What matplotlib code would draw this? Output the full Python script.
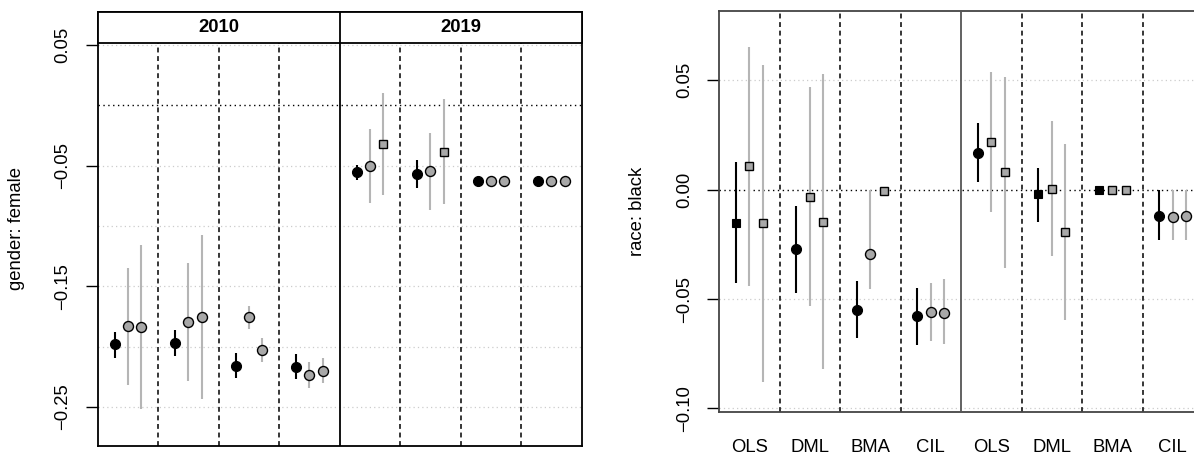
import matplotlib
matplotlib.use("Agg")
import matplotlib.pyplot as plt
from matplotlib.patches import Rectangle

plt.rcParams['font.family'] = ['Liberation Sans', 'DejaVu Sans']

# ---------------- data ----------------
methods = ["OLS", "DML", "BMA", "CIL", "OLS", "DML", "BMA", "CIL"]
years = ["2010", "2019"]

# gender: female (left panel)
g_est1 = [-0.198, -0.1967, -0.2157, -0.2166, -0.0555, -0.0566, -0.0627, -0.0627]
g_lo1 = [-0.209, -0.2075, -0.226, -0.227, -0.0619, -0.0682, -0.0668, -0.0668]
g_hi1 = [-0.188, -0.186, -0.205, -0.206, -0.0494, -0.0456, -0.0590, -0.0590]
g_mk1 = ["o", "o", "o", "o", "o", "o", "o", "o"]

g_est2 = [-0.183, -0.1798, -0.1757, -0.2235, -0.0500, -0.0547, -0.0627, -0.0627]
g_lo2 = [-0.232, -0.228, -0.185, -0.234, -0.0807, -0.0865, -0.0668, -0.0668]
g_hi2 = [-0.1345, -0.131, -0.1666, -0.2124, -0.0196, -0.0229, -0.0586, -0.0586]
g_mk2 = ["o", "o", "o", "o", "o", "o", "o", "o"]

g_est3 = [-0.184, -0.1754, -0.2028, -0.2199, -0.0318, -0.0384, -0.0627, -0.0627]
g_lo3 = [-0.252, -0.2436, -0.2124, -0.2304, -0.0740, -0.0820, -0.0668, -0.0668]
g_hi3 = [-0.116, -0.1075, -0.1928, -0.209, 0.0102, 0.0055, -0.0586, -0.0586]
g_mk3 = ["o", "o", "o", "o", "s", "s", "o", "o"]

# race: black (right panel)
r_est1 = [-0.0151, -0.0271, -0.0550, -0.0578, 0.0169, -0.0021, 0.0000, -0.0119]
r_lo1 = [-0.0427, -0.0474, -0.0680, -0.0708, 0.0034, -0.0146, 0.0000, -0.0229]
r_hi1 = [0.0125, -0.0073, -0.0418, -0.0448, 0.0303, 0.0101, 0.0000, 0.0000]
r_mk1 = ["s", "o", "o", "o", "o", "s", "s", "o"]

r_est2 = [0.0108, -0.0032, -0.0296, -0.0558, 0.0220, 0.0005, 0.0000, -0.0125]
r_lo2 = [-0.0439, -0.0531, -0.0454, -0.0691, -0.0104, -0.0305, 0.0000, -0.0229]
r_hi2 = [0.0654, 0.0468, 0.0000, -0.0428, 0.0540, 0.0313, 0.0000, 0.0000]
r_mk2 = ["s", "s", "o", "o", "s", "s", "s", "o"]

r_est3 = [-0.0152, -0.0146, -0.0008, -0.0563, 0.0081, -0.0192, 0.0000, -0.0119]
r_lo3 = [-0.0878, -0.0822, -0.0008, -0.0704, -0.0358, -0.0596, 0.0000, -0.0229]
r_hi3 = [0.0570, 0.0531, -0.0008, -0.0407, 0.0517, 0.0210, 0.0000, 0.0000]
r_mk3 = ["s", "s", "s", "o", "s", "s", "s", "o"]

g_ticks = [0.05, -0.05, -0.15, -0.25]
g_grid = [0.05, -0.05, -0.10, -0.15, -0.20, -0.25]
r_ticks = [0.05, 0.00, -0.05, -0.10]
r_grid = [0.05, -0.05, -0.10]

# ---------------- layout ----------------
W, H = 1194, 457
fig = plt.figure(figsize=(W / 100, H / 100), dpi=100)


def rect(l, t, r, b):
    return [l / W, 1 - b / H, (r - l) / W, (b - t) / H]


axL = fig.add_axes(rect(97.7, 11.7, 581.7, 445.7))
axR = fig.add_axes(rect(719, 11, 1203, 412.3))

BLACK_LW = 1.5
GRAY_LINE = "#b5b5b5"
GRAY_FILL = "#a8a8a8"
FS = 13.3
offsets = [-0.22, 0.0, 0.22]


def fmt(t):
    s = "%.2f" % abs(t)
    return ("\u2212" + s) if t < 0 else s


def draw_panel(ax, series, grid, ticks, ylim, frame_color, divider_color):
    n = len(methods)
    xs = list(range(1, n + 1))
    ax.set_xlim(0.5, n + 0.5)
    ax.set_ylim(*ylim)
    for g in grid:
        ax.axhline(g, color="#cccccc", lw=0.9, ls=(0, (1, 2.5)), zorder=1)
    ax.axhline(0.0, color="black", lw=1.0, ls=(0, (1, 2.5)), zorder=1)
    for k in range(1, n):
        if k == n // 2:
            continue
        ax.axvline(k + 0.5, color="black", lw=1.1, ls=(0, (3.2, 2.4)), zorder=1)
    ax.axvline(n // 2 + 0.5, color=divider_color, lw=1.3, zorder=6)
    for si, (est, lo, hi, mk) in enumerate(series):
        dx = offsets[si]
        is_black = si == 0
        lc = "black" if is_black else GRAY_LINE
        for i in range(n):
            x = xs[i] + dx
            if hi[i] > lo[i]:
                ax.plot([x, x], [lo[i], hi[i]], color=lc, lw=BLACK_LW,
                        solid_capstyle="butt", zorder=3)
        for i in range(n):
            x = xs[i] + dx
            ms = 7.2 if mk[i] == "o" else 6.2
            if is_black:
                ax.plot(x, est[i], marker=mk[i], ms=ms, mfc="black",
                        mec="black", mew=0.8, ls="none", zorder=5)
            else:
                ax.plot(x, est[i], marker=mk[i], ms=ms, mfc=GRAY_FILL,
                        mec="black", mew=1.0, ls="none", zorder=5)
    for s in ax.spines.values():
        s.set_color(frame_color)
        s.set_linewidth(1.3)
    ax.set_yticks(ticks)
    ax.set_yticklabels([fmt(t) for t in ticks], rotation=90, va="center",
                       fontsize=FS)
    ax.tick_params(axis="y", length=8.4, width=1.0, pad=10.5)


label_x = -(97.7 - 25.0) / 484.0

# left panel
left_series = [(g_est1, g_lo1, g_hi1, g_mk1), (g_est2, g_lo2, g_hi2, g_mk2),
               (g_est3, g_lo3, g_hi3, g_mk3)]
draw_panel(axL, left_series, g_grid, g_ticks, (-0.282, 0.0776), "black", "black")
axL.set_xticks([])
axL.set_ylabel("gender: female", fontsize=FS)
axL.yaxis.set_label_coords(label_x, 0.5)
strip_b = (445.7 - 42.7) / 434.0
axL.add_patch(Rectangle((0, strip_b), 1, 1 - strip_b, transform=axL.transAxes,
                        facecolor="white", edgecolor="black", lw=1.3,
                        zorder=5, clip_on=False))
for j, yr in enumerate(years):
    axL.text(0.25 + 0.5 * j, (1 + strip_b) / 2, yr, transform=axL.transAxes,
             ha="center", va="center", fontsize=FS, fontweight="bold", zorder=7)

# right panel
right_series = [(r_est1, r_lo1, r_hi1, r_mk1), (r_est2, r_lo2, r_hi2, r_mk2),
                (r_est3, r_lo3, r_hi3, r_mk3)]
draw_panel(axR, right_series, r_grid, r_ticks, (-0.1018, 0.0817), "#444444", "#555555")
axR.set_xticks(range(1, len(methods) + 1))
axR.set_xticklabels(methods, fontsize=FS)
axR.tick_params(axis="x", length=0, pad=19)
axR.set_ylabel("race: black", fontsize=FS)
axR.yaxis.set_label_coords(label_x, 0.5)

fig.savefig("out.png", dpi=100)
